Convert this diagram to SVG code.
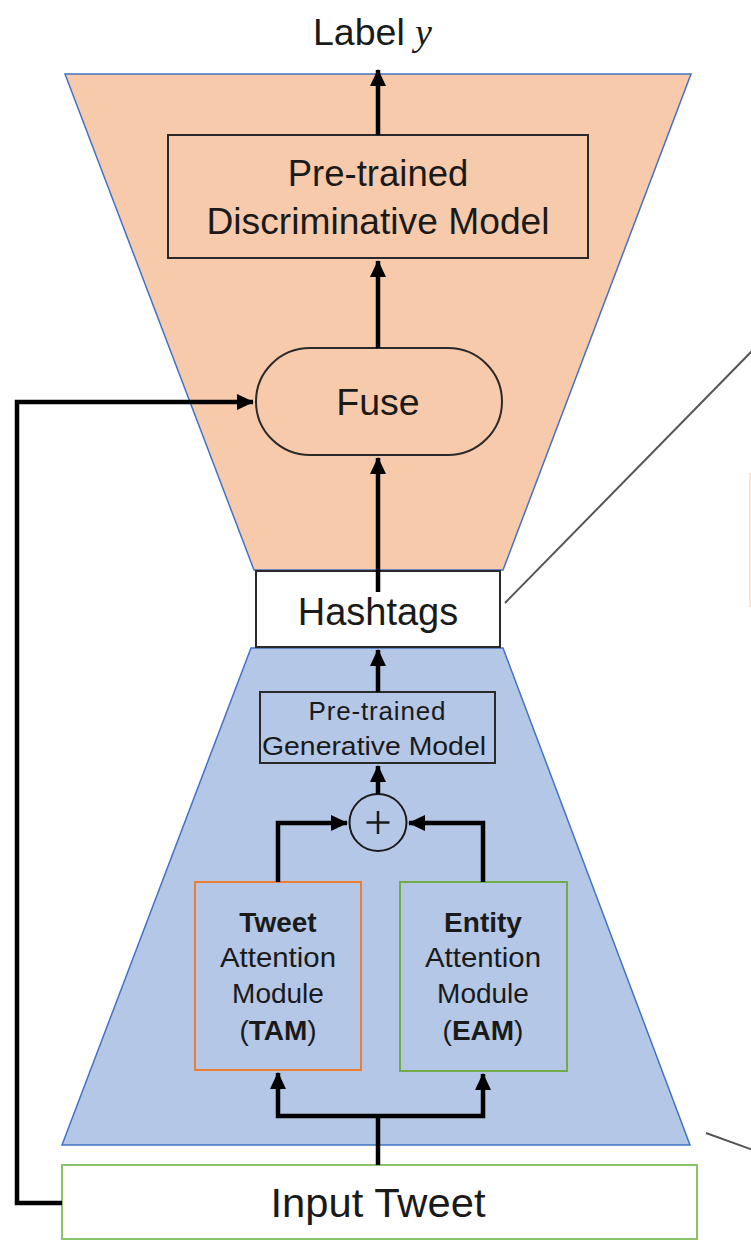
<svg xmlns="http://www.w3.org/2000/svg" width="751" height="1241" viewBox="0 0 751 1241">
<defs>
<marker id="ah" markerWidth="4" markerHeight="4" refX="3.6" refY="2" orient="auto" markerUnits="strokeWidth">
<path d="M0,0.2 L3.8,2 L0,3.8 Z" fill="#000"/>
</marker>
<style>
.t{font-family:"Liberation Sans",Arial,sans-serif;fill:#1a1a1a;text-anchor:middle}
.box{stroke:#2a2a2a;stroke-width:2}
.conn{fill:none;stroke:#000;stroke-width:4.5;stroke-linejoin:miter}
.arr{marker-end:url(#ah)}
.thin{fill:none;stroke:#555;stroke-width:2}
</style>
</defs>
<rect width="751" height="1241" fill="#fff"/>

<g id="disc-trapezoid">
<polygon points="65,74 691,74 503,570 254,570" fill="#F7CAAC" stroke="#4472C4" stroke-width="1.5"/>
</g>
<g id="gen-trapezoid">
<polygon points="251,648 503,648 690,1145 62,1145" fill="#B4C7E7" stroke="#4472C4" stroke-width="1.5"/>
</g>

<g id="label-y">
<text x="313" y="45" font-family="Liberation Sans,Arial,sans-serif" font-size="37.5" fill="#1a1a1a">Label</text>
<text x="415" y="45" font-family="Liberation Serif,Times New Roman,serif" font-style="italic" font-size="38" fill="#1a1a1a">y</text>
</g>

<g id="disc-model">
<rect class="box" x="168" y="135" width="420" height="123" fill="#F7CAAC"/>
<text class="t" x="378" y="186" font-size="36.5">Pre-trained</text>
<text class="t" x="378" y="234" font-size="36.5" textLength="343" lengthAdjust="spacingAndGlyphs">Discriminative Model</text>
</g>

<g id="fuse">
<rect class="box" x="256" y="348" width="246" height="107" rx="54" ry="53.5" fill="#F7CAAC"/>
<text class="t" x="378" y="415" font-size="37.5">Fuse</text>
</g>

<g id="hashtags">
<rect class="box" x="256" y="571" width="244" height="76" fill="#fff"/>
<text class="t" x="378" y="625" font-size="38">Hashtags</text>
</g>

<g id="gen-model">
<rect class="box" x="260" y="692" width="235" height="71" fill="#B4C7E7"/>
<text class="t" x="377" y="720" font-size="26" textLength="137" lengthAdjust="spacing">Pre-trained</text>
<text class="t" x="374" y="755" font-size="26" textLength="224" lengthAdjust="spacingAndGlyphs">Generative Model</text>
</g>

<g id="plus">
<circle cx="378" cy="822.5" r="28.5" fill="#B4C7E7" stroke="#1a1a1a" stroke-width="2"/>
<path d="M378,811 V834 M366.5,822.5 H389.5" stroke="#1a1a1a" stroke-width="2.5"/>
</g>

<g id="tam">
<rect x="195" y="882" width="166" height="188" fill="#B4C7E7" stroke="#ED7D31" stroke-width="2"/>
<text class="t" x="278" y="932" font-size="28" font-weight="bold">Tweet</text>
<text class="t" x="278" y="967" font-size="28" textLength="116" lengthAdjust="spacingAndGlyphs">Attention</text>
<text class="t" x="278" y="1003" font-size="28">Module</text>
<text class="t" x="278" y="1040" font-size="28">(<tspan font-weight="bold">TAM</tspan>)</text>
</g>

<g id="eam">
<rect x="400" y="882" width="167" height="189" fill="#B4C7E7" stroke="#70AD47" stroke-width="2"/>
<text class="t" x="483" y="932" font-size="28" font-weight="bold">Entity</text>
<text class="t" x="483" y="967" font-size="28" textLength="116" lengthAdjust="spacingAndGlyphs">Attention</text>
<text class="t" x="483" y="1003" font-size="28">Module</text>
<text class="t" x="483" y="1040" font-size="28">(<tspan font-weight="bold">EAM</tspan>)</text>
</g>

<g id="input-tweet">
<rect x="62" y="1165" width="635" height="74" fill="#fff" stroke="#8CC26A" stroke-width="2"/>
<text class="t" x="378" y="1217" font-size="40" textLength="215" lengthAdjust="spacingAndGlyphs">Input Tweet</text>
</g>

<g id="connectors">
<path class="conn arr" d="M378,135 V70"/>
<path class="conn arr" d="M378,348 V261"/>
<path class="conn arr" d="M378,592 V458"/>
<path class="conn arr" d="M378,692 V650"/>
<path class="conn arr" d="M378,794 V766"/>
<path class="conn arr" d="M278,882 V823 H347"/>
<path class="conn arr" d="M483,882 V823 H409"/>
<path class="conn" d="M378,1165 V1116"/>
<path class="conn arr" d="M378,1116 H278 V1073"/>
<path class="conn arr" d="M378,1116 H483 V1074"/>
<path class="conn arr" d="M62,1203 H17 V402 H253"/>
<path class="thin" d="M505,603 L753,350"/>
<path class="thin" d="M706,1133 L753,1150"/>
<path d="M750,473 V607" stroke="#FBE3CF" stroke-width="2" fill="none"/>
</g>
</svg>
